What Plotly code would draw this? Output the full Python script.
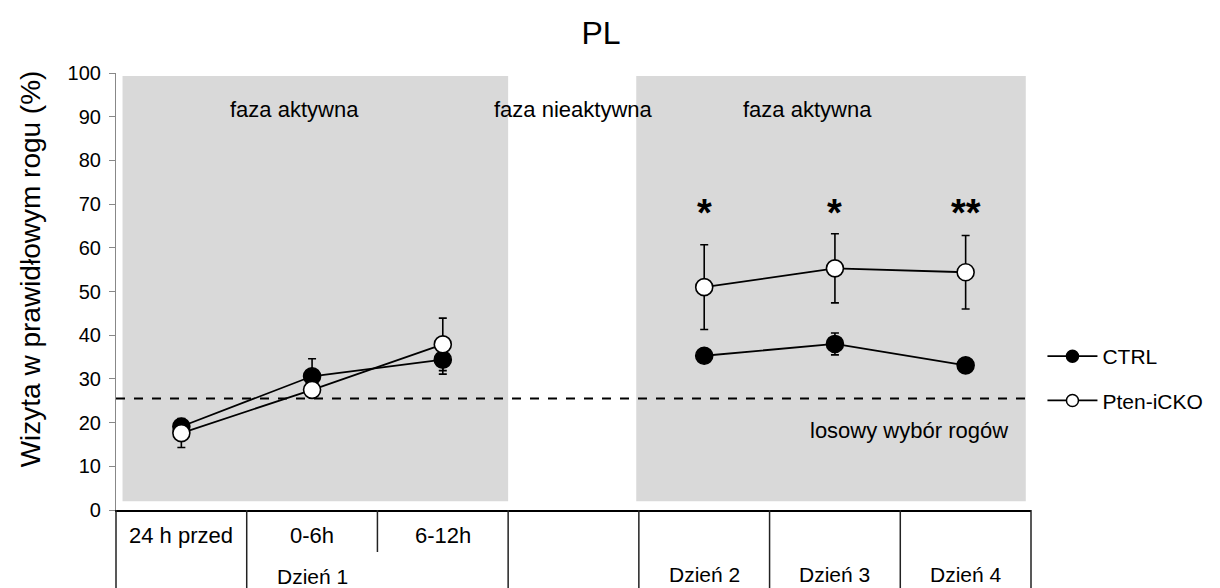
import plotly.graph_objects as go

# ---- data ----
slots = [0, 1, 2, 3, 4, 5, 6]
top_labels = ["24 h przed", "0-6h", "6-12h", "", "", "", ""]
ctrl = [19.1, 30.6, 34.4, None, 35.3, 38.0, 33.1]
ctrl_err = [1.5, 4.0, 3.3, None, 1.5, 2.5, 1.5]
pten = [17.6, 27.5, 37.9, None, 51.0, 55.3, 54.4]
pten_err = [3.3, 1.5, 6.0, None, 9.7, 7.9, 8.4]
chance_level = 25.5
stars = {4: "*", 5: "*", 6: "**"}
day_labels = {1: "Dzień 1", 4: "Dzień 2", 5: "Dzień 3", 6: "Dzień 4"}
y_title = "Wizyta w prawidłowym rogu (%)"

FONT = "Liberation Sans, Arial, sans-serif"
W, H = 1220, 588
L, R, T, B = 116, 185.5, 73, 78
PW = W - L - R
PH = H - T - B

fig = go.Figure()

series = [("CTRL", ctrl, ctrl_err, "black"), ("Pten-iCKO", pten, pten_err, "white")]
for i, (name, vals, errs, fill) in enumerate(series):
    fig.add_trace(go.Scatter(
        x=slots, y=vals, name=name, mode="lines+markers",
        line=dict(color="black", width=1.8),
        marker=dict(symbol="circle", size=17, color=fill, line=dict(color="black", width=1.6)),
        error_y=dict(type="data", array=errs, color="black", thickness=1.6, width=4),
        connectgaps=False, showlegend=False, legendgroup=name,
    ))
# legend entries (smaller markers, as in the reference legend)
for name, vals, errs, fill in series:
    fig.add_trace(go.Scatter(
        x=[None], y=[None], name=name, mode="lines+markers",
        line=dict(color="black", width=1.8),
        marker=dict(symbol="circle", size=12, color=fill, line=dict(color="black", width=1.5)),
        showlegend=True, legendgroup=name,
    ))

shapes = []
# grey phase backgrounds
for x0, x1 in [(-0.45, 2.5), (3.48, 6.46)]:
    shapes.append(dict(type="rect", xref="x", yref="y", x0=x0, x1=x1, y0=2, y1=99.3,
                       fillcolor="#d9d9d9", line=dict(width=0), layer="below"))
# chance line
shapes.append(dict(type="line", xref="paper", yref="y", x0=0, x1=1, y0=chance_level, y1=chance_level,
                   line=dict(color="black", width=2, dash="dash")))
# table lines under axis
bottom = -B / PH
for b in [-0.5, 0.5, 1.5, 2.5, 3.5, 4.5, 5.5, 6.5]:
    xp = (b + 0.5) / 7
    y_end = -42 / PH if b == 1.5 else bottom
    shapes.append(dict(type="line", xref="paper", yref="paper", x0=xp, x1=xp, y0=0, y1=y_end,
                       line=dict(color="#222", width=1.5)))

annotations = []
for s, lab in zip(slots, top_labels):
    if lab:
        annotations.append(dict(x=s, y=-25 / PH, xref="x", yref="paper", text=lab, showarrow=False,
                                yanchor="middle", font=dict(size=22, color="black", family=FONT)))
for s, lab in day_labels.items():
    yy = -66 / PH if s == 1 else -64 / PH
    annotations.append(dict(x=s, y=yy, xref="x", yref="paper", text=lab, showarrow=False,
                            yanchor="middle", font=dict(size=21, color="black", family=FONT)))
for s, st in stars.items():
    annotations.append(dict(x=s, y=68.0, xref="x", yref="y", text="<b>" + st + "</b>", showarrow=False,
                            font=dict(size=38, color="black", family=FONT)))
for xx, txt in [(0.864, "faza aktywna"), (3.0, "faza nieaktywna"), (4.79, "faza aktywna")]:
    annotations.append(dict(x=xx, y=91.6, xref="x", yref="y", text=txt, showarrow=False,
                            font=dict(size=22, color="black", family=FONT)))
annotations.append(dict(x=5.57, y=18.1, xref="x", yref="y", text="losowy wybór rogów", showarrow=False,
                        font=dict(size=22, color="black", family=FONT)))
# y-axis title
annotations.append(dict(x=(30 - L) / PW, y=(510 - 269) / PH, xref="paper", yref="paper",
                        text=y_title, textangle=-90, showarrow=False,
                        xanchor="center", yanchor="middle",
                        font=dict(size=28, color="black", family=FONT)))

fig.update_layout(
    width=W, height=H,
    margin=dict(l=L, r=R, t=T, b=B, pad=0),
    paper_bgcolor="white", plot_bgcolor="white",
    title=dict(text="PL", x=601 / W, xanchor="center", y=1 - 33 / H, yanchor="middle",
               font=dict(size=32, color="black", family=FONT)),
    font=dict(family=FONT, color="black"),
    shapes=shapes,
    annotations=annotations,
    showlegend=True,
    legend=dict(x=(1046 - L) / PW, xanchor="left",
                y=(510 - 336) / PH, yanchor="top",
                font=dict(size=21, color="black", family=FONT),
                bgcolor="rgba(0,0,0,0)", traceorder="grouped", tracegroupgap=14,
                itemwidth=50),
    xaxis=dict(range=[-0.5, 6.5], showgrid=False, zeroline=False, showticklabels=False,
               ticks="", showline=True, linecolor="black", linewidth=1.5),
    yaxis=dict(range=[0, 100], dtick=10, showgrid=False, zeroline=False,
               ticks="outside", ticklen=6, tickcolor="#888", tickwidth=1.2,
               showline=True, linecolor="#888", linewidth=1.2,
               ticklabelstandoff=4,
               tickfont=dict(size=20, color="black", family=FONT)),
)

fig.write_html("out.html")
